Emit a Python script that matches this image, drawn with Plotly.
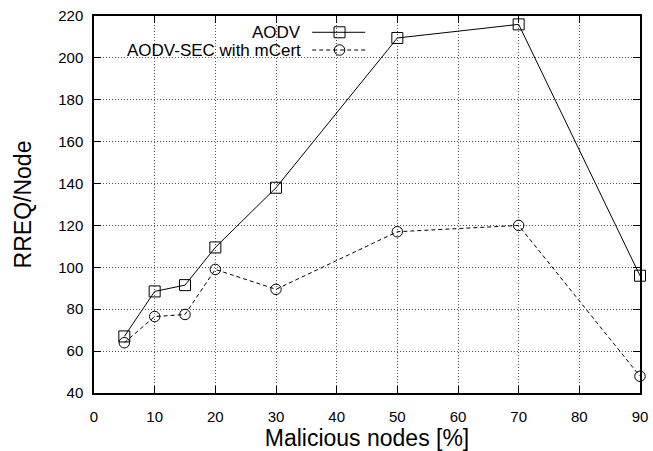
import plotly.graph_objects as go

# Percentage of malicious nodes in the network
malicious_pct = [5, 10, 15, 20, 30, 50, 70, 90]

# Route requests per node for each protocol
aodv_rreq = [67, 88.5, 91.5, 109.5, 138, 209.5, 216, 96]
aodv_sec_rreq = [64, 76.5, 77.5, 99, 89.5, 117, 120, 48]

series_names = ["AODV", "AODV-SEC with mCert"]

x_ticks = list(range(0, 91, 10))
y_ticks = list(range(40, 221, 20))

FONT = "Liberation Sans, Arial, sans-serif"

fig = go.Figure()

fig.add_trace(go.Scatter(
    x=malicious_pct, y=aodv_rreq, name=series_names[0],
    mode="lines+markers",
    line=dict(color="black", width=1),
    marker=dict(symbol="square-open", size=11, color="black", line=dict(width=1)),
    cliponaxis=False, showlegend=False,
))
fig.add_trace(go.Scatter(
    x=malicious_pct, y=aodv_sec_rreq, name=series_names[1],
    mode="lines+markers",
    line=dict(color="black", width=1, dash="4px,3px"),
    marker=dict(symbol="circle-open", size=10.5, color="black", line=dict(width=1)),
    cliponaxis=False, showlegend=False,
))

# Key drawn inside the plot area (text left of the sample), on an overlay axis in [0, 1]
key_y = [0.9568, 0.9098]
key_x_text = 0.3813
key_x0, key_x1, key_xm = 0.3996, 0.4968, 0.4497

fig.add_shape(type="rect", xref="paper", yref="paper", x0=0.002, x1=0.515,
              y0=0.886, y1=0.997, fillcolor="white", line=dict(width=0),
              layer="between")

for i, (name, sym, msize, dash) in enumerate(zip(series_names,
                                                 ["square-open", "circle-open"],
                                                 [11, 10.5],
                                                 ["solid", "4px,3px"])):
    fig.add_trace(go.Scatter(
        x=[key_x0, key_x1], y=[key_y[i], key_y[i]],
        xaxis="x2", yaxis="y2", mode="lines",
        line=dict(color="black", width=1, dash=dash),
        showlegend=False, hoverinfo="skip",
    ))
    fig.add_trace(go.Scatter(
        x=[key_xm], y=[key_y[i]], xaxis="x2", yaxis="y2", mode="markers",
        marker=dict(symbol=sym, size=msize, color="black", line=dict(width=1)),
        showlegend=False, hoverinfo="skip",
    ))
    fig.add_annotation(
        xref="paper", yref="paper", x=key_x_text, y=key_y[i],
        text=name, showarrow=False, xanchor="right", yanchor="middle",
        height=15, borderpad=0,
        font=dict(family=FONT, size=17, color="black"),
    )

axis_common = dict(
    showline=True, linecolor="black", linewidth=1.5, mirror="ticks",
    ticks="inside", ticklen=7, tickwidth=1, tickcolor="black",
    showgrid=True, gridcolor="#555555", gridwidth=1, griddash="1px,2px",
    zeroline=False, automargin=False,
    tickfont=dict(family=FONT, size=15, color="black"),
)

fig.update_layout(
    width=653, height=451,
    margin=dict(l=94, r=13, t=16, b=58),
    paper_bgcolor="white", plot_bgcolor="white",
    showlegend=False,
    xaxis=dict(
        range=[0, 90], tickvals=x_ticks,
        title=dict(text="Malicious nodes [%]", standoff=9,
                   font=dict(family=FONT, size=23, color="black")),
        ticklabelstandoff=9,
        **axis_common,
    ),
    yaxis=dict(
        range=[40, 220], tickvals=y_ticks,
        title=dict(text="RREQ/Node", standoff=20,
                   font=dict(family=FONT, size=23, color="black")),
        ticklabelstandoff=6,
        **axis_common,
    ),
    xaxis2=dict(range=[0, 1], overlaying="x", visible=False, fixedrange=True),
    yaxis2=dict(range=[0, 1], overlaying="y", visible=False, fixedrange=True),
)

fig.write_html("out.html")
